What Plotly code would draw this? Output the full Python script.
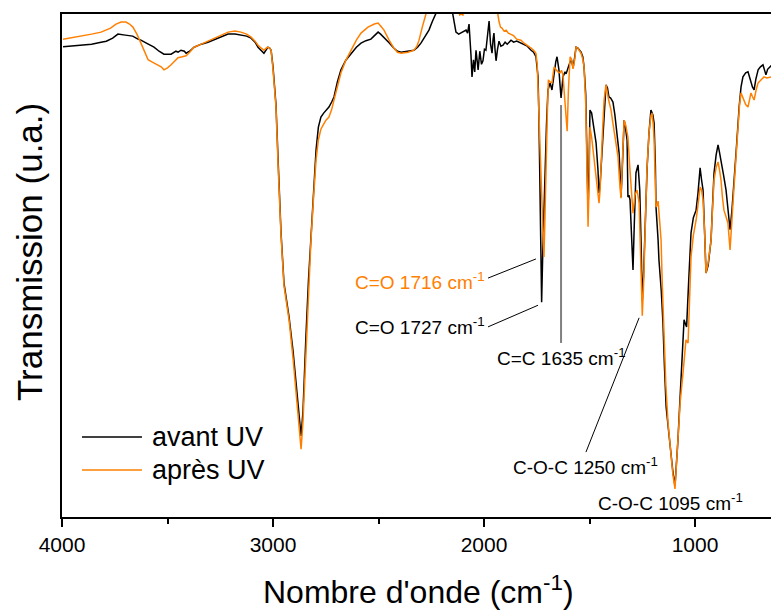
import plotly.graph_objects as go

# FTIR spectra (wavenumber in cm-1, transmission in arbitrary units)
wn_avant = [3995, 3950, 3900, 3860, 3815, 3790, 3760, 3745, 3735, 3700, 3665, 3640, 3626, 3600, 3590, 3575, 3564, 3540, 3517, 3500, 3483, 3460, 3450, 3436, 3420, 3412, 3395, 3374, 3340, 3308, 3250, 3213, 3180, 3152, 3125, 3104, 3085, 3071, 3055, 3043, 3030, 3024, 3015, 3009, 3000, 2995, 2986, 2975, 2962, 2948, 2924, 2905, 2891, 2878, 2867, 2858, 2850, 2844, 2832, 2820, 2808, 2796, 2785, 2773, 2760, 2749, 2735, 2722, 2711, 2695, 2678, 2655, 2630, 2605, 2583, 2560, 2536, 2520, 2502, 2490, 2474, 2450, 2427, 2410, 2393, 2360, 2332, 2315, 2299, 2280, 2261, 2245, 2227, 2210, 2190, 2165, 2150, 2145, 2133, 2120, 2109, 2095, 2085, 2078, 2071, 2062, 2057, 2050, 2044, 2038, 2033, 2028, 2020, 2012, 2005, 1998, 1991, 1983, 1976, 1969, 1962, 1957, 1953, 1948, 1943, 1936, 1929, 1920, 1910, 1900, 1890, 1872, 1860, 1845, 1825, 1810, 1795, 1777, 1765, 1754, 1748, 1744, 1740, 1736, 1731, 1727, 1722, 1716, 1711, 1704, 1697, 1687, 1678, 1668, 1660, 1654, 1645, 1640, 1635, 1630, 1626, 1616, 1611, 1600, 1592, 1585, 1578, 1570, 1564, 1555, 1540, 1532, 1526, 1518, 1512, 1507, 1502, 1498, 1490, 1483, 1469, 1460, 1455, 1450, 1440, 1431, 1422, 1415, 1408, 1400, 1389, 1380, 1374, 1365, 1360, 1355, 1351, 1346, 1341, 1336, 1330, 1322, 1318, 1313, 1308, 1300, 1294, 1288, 1280, 1270, 1262, 1256, 1250, 1244, 1236, 1227, 1218, 1209, 1200, 1194, 1188, 1185, 1175, 1171, 1160, 1152, 1145, 1137, 1125, 1114, 1105, 1095, 1088, 1081, 1073, 1066, 1058, 1052, 1046, 1040, 1030, 1019, 1008, 995, 986, 976, 969, 962, 955, 948, 938, 924, 918, 910, 900, 891, 884, 877, 865, 853, 843, 834, 825, 815, 803, 791, 782, 773, 760, 749, 742, 735, 728, 720, 712, 701, 690, 678, 671, 664, 656, 649, 640, 635]
t_avant = [93.5, 93.7, 93.8, 94.0, 94.4, 94.6, 95.2, 95.6, 96.0, 95.8, 95.6, 95.0, 94.8, 94.2, 94.0, 93.6, 93.4, 92.6, 92.0, 92.0, 92.0, 92.6, 92.4, 92.8, 92.6, 92.2, 92.6, 93.4, 94.0, 94.4, 95.4, 96.0, 96.0, 95.8, 95.6, 95.2, 94.4, 93.4, 92.8, 92.2, 93.0, 93.4, 93.2, 92.8, 89.5, 86.0, 82.0, 70.0, 56.5, 46.5, 39.8, 33.0, 27.0, 21.0, 16.1, 21.0, 28.0, 36.0, 47.0, 56.5, 65.0, 73.0, 77.5, 79.5, 80.3, 80.9, 81.5, 82.5, 83.5, 86.5, 88.9, 90.8, 92.2, 93.4, 94.2, 94.7, 95.0, 95.6, 96.4, 96.0, 95.4, 94.3, 93.2, 92.6, 92.4, 92.6, 92.8, 93.4, 94.2, 95.5, 96.8, 98.5, 100.2, 103.0, 105.0, 104.0, 100.5, 98.5, 96.4, 96.0, 96.2, 96.6, 96.8, 96.2, 98.0, 92.0, 87.5, 90.9, 88.5, 92.8, 90.0, 88.9, 92.6, 90.0, 90.7, 93.0, 92.8, 96.0, 98.6, 94.0, 92.2, 95.0, 96.2, 93.0, 90.7, 93.0, 94.6, 93.6, 93.8, 94.4, 94.0, 94.8, 94.4, 94.6, 94.2, 93.8, 93.6, 92.8, 92.4, 91.5, 89.5, 87.5, 80.0, 70.0, 55.0, 42.7, 52.0, 62.0, 69.0, 78.0, 84.9, 86.3, 84.9, 88.3, 90.5, 91.5, 88.9, 86.0, 83.3, 85.5, 87.5, 88.5, 88.1, 89.5, 90.5, 90.8, 89.3, 91.5, 93.4, 93.2, 92.4, 91.5, 89.5, 84.0, 72.0, 61.0, 70.0, 80.9, 80.3, 78.5, 74.4, 69.0, 64.4, 66.0, 73.0, 79.5, 85.9, 85.3, 83.5, 83.3, 82.5, 80.0, 77.5, 74.0, 72.4, 68.0, 63.6, 68.0, 74.9, 78.9, 77.5, 74.9, 63.6, 64.0, 63.0, 56.0, 49.1, 58.0, 68.4, 70.0, 65.0, 55.0, 43.0, 48.0, 60.0, 69.6, 76.5, 80.9, 80.0, 78.3, 70.0, 61.6, 55.0, 51.1, 45.0, 38.6, 30.0, 21.9, 17.0, 11.9, 9.0, 6.2, 10.0, 15.3, 22.0, 28.6, 35.5, 39.2, 38.4, 37.8, 47.0, 56.5, 59.5, 61.0, 64.4, 69.4, 67.0, 65.0, 57.0, 48.5, 50.0, 55.1, 61.0, 68.4, 72.0, 74.0, 72.5, 71.0, 68.0, 65.0, 61.0, 57.1, 61.0, 66.4, 74.0, 81.5, 85.5, 87.5, 88.3, 88.5, 87.5, 86.5, 85.5, 84.9, 87.0, 88.9, 89.5, 89.9, 89.0, 87.9, 89.0, 89.3, 89.6, 89.9]

wn_apres = [3995, 3950, 3900, 3860, 3815, 3790, 3770, 3744, 3720, 3697, 3680, 3664, 3645, 3626, 3610, 3592, 3570, 3555, 3540, 3530, 3517, 3500, 3483, 3465, 3450, 3430, 3412, 3395, 3374, 3340, 3308, 3260, 3213, 3180, 3152, 3125, 3104, 3085, 3071, 3055, 3043, 3030, 3024, 3015, 3009, 3000, 2995, 2986, 2975, 2962, 2948, 2924, 2905, 2891, 2878, 2867, 2858, 2850, 2844, 2832, 2820, 2808, 2796, 2785, 2773, 2760, 2749, 2735, 2722, 2711, 2695, 2678, 2655, 2630, 2605, 2583, 2550, 2520, 2502, 2490, 2474, 2450, 2427, 2410, 2393, 2360, 2332, 2318, 2308, 2292, 2275, 2255, 2200, 2150, 2125, 2115, 2108, 2100, 2092, 2060, 2000, 1960, 1940, 1935, 1929, 1922, 1915, 1905, 1895, 1885, 1872, 1860, 1845, 1825, 1810, 1795, 1777, 1765, 1754, 1748, 1744, 1738, 1730, 1723, 1716, 1711, 1705, 1700, 1695, 1687, 1678, 1672, 1668, 1660, 1650, 1640, 1633, 1626, 1617, 1611, 1606, 1600, 1592, 1585, 1578, 1570, 1564, 1555, 1540, 1532, 1526, 1518, 1512, 1507, 1502, 1498, 1490, 1483, 1469, 1460, 1455, 1450, 1445, 1438, 1431, 1422, 1410, 1398, 1390, 1384, 1375, 1365, 1358, 1351, 1345, 1336, 1328, 1318, 1310, 1303, 1294, 1285, 1275, 1270, 1265, 1258, 1250, 1244, 1236, 1228, 1218, 1209, 1204, 1198, 1194, 1188, 1185, 1180, 1175, 1168, 1161, 1155, 1147, 1138, 1128, 1115, 1105, 1095, 1088, 1081, 1070, 1057, 1050, 1043, 1033, 1026, 1019, 1008, 995, 986, 976, 969, 962, 955, 948, 938, 924, 918, 910, 900, 891, 884, 877, 870, 863, 853, 844, 834, 825, 815, 805, 796, 789, 782, 770, 760, 749, 742, 735, 728, 720, 710, 701, 690, 673, 660, 645, 635]
t_apres = [95.0, 95.3, 95.6, 96.0, 96.4, 96.8, 97.2, 98.0, 98.4, 98.4, 98.0, 97.4, 96.0, 94.2, 92.5, 90.9, 90.4, 90.1, 89.7, 89.5, 88.9, 89.3, 89.9, 90.7, 91.3, 91.5, 91.7, 92.4, 93.4, 94.0, 94.6, 95.6, 96.4, 96.6, 96.4, 96.0, 95.4, 94.6, 93.8, 93.2, 92.8, 93.3, 93.4, 93.2, 92.8, 89.0, 85.5, 81.5, 69.0, 56.0, 46.0, 39.2, 31.5, 25.2, 19.0, 13.5, 19.0, 26.5, 34.5, 45.0, 55.1, 63.5, 71.0, 75.0, 77.1, 78.1, 78.9, 79.5, 81.0, 82.9, 85.8, 88.3, 90.8, 92.8, 94.8, 96.2, 97.4, 98.0, 98.2, 97.6, 96.8, 94.8, 93.2, 92.4, 92.2, 92.4, 92.8, 93.6, 94.8, 97.5, 99.8, 103.0, 106.0, 105.0, 101.5, 99.8, 100.0, 99.8, 101.5, 105.0, 106.0, 105.0, 101.5, 99.8, 98.5, 97.4, 97.2, 96.6, 96.8, 96.2, 96.0, 95.7, 95.0, 94.8, 94.2, 93.8, 93.2, 92.8, 92.2, 90.0, 86.0, 78.0, 68.0, 58.0, 51.7, 60.0, 73.0, 80.0, 86.9, 86.5, 86.3, 88.0, 89.5, 89.0, 88.5, 88.3, 88.8, 87.9, 83.0, 79.5, 76.7, 85.0, 91.5, 91.0, 89.1, 91.0, 93.4, 93.2, 92.2, 91.0, 89.5, 82.0, 68.0, 57.7, 66.0, 77.5, 75.5, 73.0, 67.6, 64.5, 62.4, 65.0, 71.0, 77.0, 82.9, 85.9, 83.0, 80.9, 78.5, 76.9, 74.5, 71.6, 67.0, 63.4, 70.0, 78.9, 77.8, 75.5, 70.0, 65.6, 60.4, 64.0, 65.0, 63.8, 62.4, 52.0, 40.0, 46.0, 59.0, 69.0, 76.5, 79.8, 80.3, 78.0, 75.0, 68.0, 61.6, 62.0, 62.8, 59.0, 55.1, 46.0, 35.2, 26.0, 18.7, 12.5, 8.5, 5.6, 10.0, 15.3, 23.0, 28.6, 32.5, 35.2, 34.6, 43.0, 51.7, 56.0, 59.0, 62.0, 65.6, 65.0, 63.0, 57.0, 48.5, 50.5, 55.1, 60.5, 67.0, 69.5, 70.6, 69.0, 67.0, 63.5, 61.0, 59.7, 58.4, 53.1, 60.0, 65.8, 72.0, 78.3, 82.0, 84.3, 83.0, 82.0, 81.5, 83.0, 84.3, 83.6, 82.9, 85.0, 86.3, 86.8, 87.5, 87.3, 87.5, 87.5]

series_names = ["avant UV", "après UV"]
series_colors = ["#000000", "#FF8000"]

# Band assignments: (label, colour)
band_labels = [
    ("C=O 1716 cm<sup>-1</sup>", "#FF8000"),
    ("C=O 1727 cm<sup>-1</sup>", "#000000"),
    ("C=C 1635 cm<sup>-1</sup>", "#000000"),
    ("C-O-C 1250 cm<sup>-1</sup>", "#000000"),
    ("C-O-C 1095 cm<sup>-1</sup>", "#000000"),
]

FONT = "Liberation Sans, Arial, sans-serif"

fig = go.Figure()
fig.add_trace(go.Scatter(x=wn_avant, y=t_avant, mode="lines", name=series_names[0],
                         line=dict(color=series_colors[0], width=1.5), showlegend=False))
fig.add_trace(go.Scatter(x=wn_apres, y=t_apres, mode="lines", name=series_names[1],
                         line=dict(color=series_colors[1], width=1.5), showlegend=False))

annotations = []
shapes = []

# C=O labels with leader lines
annotations.append(dict(x=1986, y=46.9, text=band_labels[0][0], showarrow=False, xanchor="right",
                        yanchor="middle", font=dict(color=band_labels[0][1], size=19, family=FONT)))
shapes.append(dict(type="line", x0=1981, y0=47.5, x1=1754, y1=51.3, line=dict(color="#000000", width=1)))
annotations.append(dict(x=1986, y=38.0, text=band_labels[1][0], showarrow=False, xanchor="right",
                        yanchor="middle", font=dict(color=band_labels[1][1], size=19, family=FONT)))
shapes.append(dict(type="line", x0=1981, y0=37.8, x1=1744, y1=42.1, line=dict(color="#000000", width=1)))

# C=C marker
shapes.append(dict(type="line", x0=1635, y0=81.9, x1=1635, y1=34.6, line=dict(color="#808080", width=2)))
annotations.append(dict(x=1635, y=31.8, text=band_labels[2][0], showarrow=False, xanchor="center",
                        yanchor="middle", font=dict(color=band_labels[2][1], size=19, family=FONT)))

# C-O-C labels
shapes.append(dict(type="line", x0=1265, y0=39.6, x1=1517, y1=12.9, line=dict(color="#000000", width=1)))
annotations.append(dict(x=1517, y=10.1, text=band_labels[3][0], showarrow=False, xanchor="center",
                        yanchor="middle", font=dict(color=band_labels[3][1], size=19, family=FONT)))
annotations.append(dict(x=1114, y=3.0, text=band_labels[4][0], showarrow=False, xanchor="center",
                        yanchor="middle", font=dict(color=band_labels[4][1], size=19, family=FONT)))

# Legend drawn in paper coordinates
legend_rows = [0.159, 0.0934]
for name, color, yy in zip(series_names, series_colors, legend_rows):
    shapes.append(dict(type="line", xref="paper", yref="paper", x0=0.0282, x1=0.1128, y0=yy, y1=yy,
                       line=dict(color=color, width=1.5)))
    annotations.append(dict(xref="paper", yref="paper", x=0.1241, y=yy, text=name, showarrow=False,
                            xanchor="left", yanchor="middle", font=dict(color="#000000", size=27, family=FONT)))

# Axis titles
annotations.append(dict(xref="paper", yref="paper", x=-0.045, y=0.527, text="Transmission (u.a.)",
                        showarrow=False, textangle=-90, xanchor="center", yanchor="middle",
                        font=dict(size=35, color="#000000", family=FONT)))
annotations.append(dict(xref="paper", yref="paper", x=0.5035, y=-0.145, text="Nombre d'onde (cm<sup>-1</sup>)",
                        showarrow=False, xanchor="center", yanchor="middle",
                        font=dict(size=32, color="#000000", family=FONT)))

fig.update_layout(
    width=771, height=610,
    margin=dict(l=62, r=0, t=14, b=93),
    paper_bgcolor="white", plot_bgcolor="white",
    font=dict(family=FONT, color="#000000"),
    annotations=annotations, shapes=shapes,
    xaxis=dict(range=[4000, 640], showgrid=False, zeroline=False, showline=True, linecolor="#000000",
               linewidth=2, mirror=True, ticks="outside", ticklen=8, tickwidth=1.5, tickcolor="#000000",
               tickvals=[4000, 3000, 2000, 1000], ticktext=["4000", "3000", "2000", "1000"],
               tickfont=dict(size=21, color="#000000", family=FONT),
               minor=dict(tickvals=[3500, 2500, 1500], ticks="outside", ticklen=5, tickcolor="#000000", tickwidth=1.5)),
    yaxis=dict(range=[0, 100], showgrid=False, zeroline=False, showline=True, linecolor="#000000",
               linewidth=2, showticklabels=False, ticks=""),
)

fig.write_html("out.html")
